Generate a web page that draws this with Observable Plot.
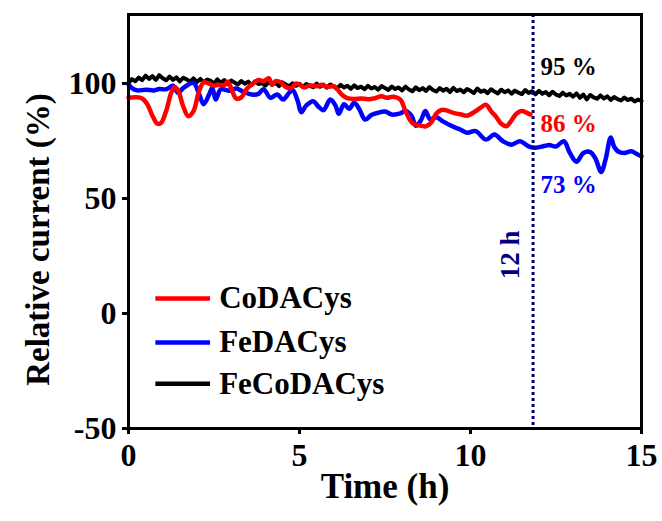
<!DOCTYPE html>
<html>
<head>
<meta charset="utf-8">
<script src="https://cdn.jsdelivr.net/npm/d3@7"></script>
<script src="https://cdn.jsdelivr.net/npm/@observablehq/plot@0.6"></script>
<style>
  html, body { margin: 0; padding: 0; background: #fff; }
  #chart { width: 662px; height: 521px; }
</style>
</head>
<body>
<div id="chart"></div>
<script>
// ---------- data ----------
const seriesNames = ["CoDACys", "FeDACys", "FeCoDACys"];
const seriesColors = ["#ff0000", "#0000ff", "#000000"];

// CoDACys (red)
const coTime = [0,0.2,0.4,0.55,0.7,0.85,0.95,1.1,1.25,1.35,1.45,1.6,1.75,1.9,2.05,2.2,2.35,2.5,2.65,2.8,2.9,3.0,3.15,3.3,3.45,3.6,3.8,3.95,4.1,4.2,4.3,4.45,4.6,4.75,4.9,5.0,5.15,5.3,5.5,5.65,5.8,6.0,6.1,6.25,6.4,6.6,6.8,7.0,7.2,7.4,7.55,7.75,7.95,8.1,8.3,8.5,8.7,8.85,9.0,9.15,9.3,9.5,9.7,9.9,10.1,10.3,10.45,10.6,10.75,10.9,11.05,11.2,11.35,11.5,11.65,11.75];
const coValue = [93.8,94.0,93.5,91,86,82.5,82.8,88,96,98.5,97,90,85.8,88,96,100.5,100,99,99.5,99.3,100.8,98,93.5,94,97.5,99.5,101.5,101,102.3,99.5,101,100.5,98.5,98,100,99.5,98.3,99.2,98.8,99.5,98.5,98.8,97.5,95,93.6,93.3,93.5,93.2,93.6,94.5,93.8,94.2,93.0,88,82.8,81.8,81.4,83,87,88.5,88.3,87.2,86.6,86,87.5,89.5,90.8,88,85.5,82.5,81.4,84,87,88,87.2,86.5];

// FeDACys (blue)
const feTime = [0,0.1,0.25,0.5,0.75,0.9,1.1,1.3,1.45,1.6,1.9,2.05,2.2,2.35,2.45,2.55,2.7,2.95,3.15,3.35,3.6,3.8,3.95,4.15,4.35,4.52,4.7,4.8,4.95,5.05,5.2,5.4,5.55,5.7,5.9,6.05,6.15,6.3,6.45,6.6,6.75,6.92,7.1,7.3,7.5,7.7,7.95,8.1,8.28,8.4,8.55,8.68,8.82,9.0,9.2,9.45,9.7,9.9,10.15,10.45,10.7,10.95,11.2,11.45,11.7,11.9,12.15,12.3,12.5,12.73,12.9,13.1,13.3,13.5,13.65,13.82,13.95,14.1,14.2,14.33,14.5,14.7,14.85,15.0];
const feValue = [99.6,98,97,97.3,97,97.6,97.5,99,96,98,100.3,96,91,95,98,93,97.5,96.8,97.8,96.5,95.2,95.5,97.5,93.8,95.2,93,96,97.2,92.3,87.5,90.5,92.3,90,88.4,93,90.5,86.8,91,89,91.6,88.8,84.3,86.3,87.3,87.8,86.5,87,88,85.8,81.6,84,88,84.5,85.3,83.5,81.5,80,78.6,79.3,75.6,77.8,74.9,73.4,74.9,72.7,72.1,72.8,73.3,72.6,74.9,70,66,69.8,70.2,67.5,61.5,67,76.5,72.5,70.3,69.8,70.5,69.5,68.3];

// FeCoDACys (black), read every 0.1 h from 0 to 15 h
const fecoStep = 0.1;
const fecoValue = [
  100.2,101.9,101.0,102.6,101.5,103.4,102.0,103.2,101.6,103.6,
  102.3,101.4,103.0,101.6,102.7,100.9,102.5,101.8,100.8,102.2,
  100.7,102.0,100.5,101.7,101.2,100.0,101.8,100.3,101.5,99.7,
  101.3,100.4,99.6,101.1,99.9,100.8,99.3,100.9,99.8,100.2,
  99.1,100.7,99.4,100.3,98.9,100.5,99.6,98.8,100.1,99.0,
  99.9,98.5,99.8,99.0,98.4,100.0,98.6,99.5,98.2,99.6,
  98.8,97.9,99.4,98.3,99.0,97.7,99.2,98.0,98.6,97.5,
  99.0,97.8,98.5,97.3,98.9,98.0,97.2,98.7,97.6,98.3,
  97.0,98.6,97.4,96.6,98.3,97.1,98.0,96.8,98.4,97.2,
  96.5,98.0,96.9,97.7,96.3,98.1,96.7,97.4,96.2,97.6,
  96.8,95.9,97.8,96.4,97.0,95.8,97.5,96.5,95.7,97.3,
  96.2,97.0,95.6,96.9,96.0,95.4,97.1,95.9,96.6,95.3,
  96.8,95.5,96.3,94.9,96.4,95.2,94.6,96.0,94.8,95.5,
  94.3,95.7,93.8,95.2,93.1,95.0,94.0,93.4,94.8,93.5,
  94.4,92.9,94.1,93.2,92.6,93.9,92.8,93.4,92.2,93.0,
  92.4
];

const xTicks = [0, 5, 10, 15];
const yTicks = [-50, 0, 50, 100];
const markerTime = 11.83;        // "12 h" dotted line
const retentionLabels = ["95 %", "86 %", "73 %"];
const retentionColors = ["#000000", "#ff0000", "#0000ff"];
const markerLabel = "12 h";
const xTitle = "Time (h)";
const yTitle = "Relative current (%)";

// ---------- tables ----------
const coData = coTime.map((t, i) => ({t, v: coValue[i]}));
const feData = feTime.map((t, i) => ({t, v: feValue[i]}));
const fecoData = fecoValue.map((v, i) => ({t: +(i * fecoStep).toFixed(2), v}));

// layout constants for annotations (not data)
const legendX0 = 0.8, legendX1 = 2.4, legendTextX = 2.65;
const legendY = [6.5, -12.6, -30.5];
const legendRows = seriesNames.map((name, i) => ({name, color: seriesColors[i], y: legendY[i]}));
const retentionY = [107, 82.5, 56];
const retentionRows = retentionLabels.map((s, i) => ({s, color: retentionColors[i], y: retentionY[i]}));

const font = "'Liberation Serif', 'Times New Roman', serif";

const chart = Plot.plot({
  width: 662,
  height: 521,
  marginLeft: 128,
  marginRight: 21,
  marginTop: 14,
  marginBottom: 93,
  style: {fontFamily: font, fontWeight: "bold", background: "#fff", color: "#000"},
  x: {domain: [0, 15]},
  y: {domain: [-50, 130]},
  marks: [
    Plot.axisX({ticks: xTicks, tickSize: 6, tickPadding: 9, fontSize: 32, strokeWidth: 3, label: null, tickFormat: d => String(d)}),
    Plot.axisY({ticks: yTicks, tickSize: 6, tickPadding: 6, fontSize: 32, strokeWidth: 3, label: null, tickFormat: d => String(d)}),
    Plot.line(fecoData, {x: "t", y: "v", stroke: seriesColors[2], strokeWidth: 4, curve: "linear"}),
    Plot.line(feData, {x: "t", y: "v", stroke: seriesColors[1], strokeWidth: 4.5, curve: "catmull-rom"}),
    Plot.line(coData, {x: "t", y: "v", stroke: seriesColors[0], strokeWidth: 4.5, curve: "catmull-rom"}),
    Plot.ruleX([markerTime], {stroke: "#000080", strokeWidth: 3, strokeDasharray: "3,3"}),
    Plot.text(retentionRows, {x: () => 12.05, y: "y", text: "s", fill: "color", fontSize: 25, textAnchor: "start"}),
    Plot.text([markerLabel], {x: () => 11.17, y: () => 25.5, rotate: -90, fill: "#000080", fontSize: 27}),
    Plot.ruleY(legendRows, {x1: () => legendX0, x2: () => legendX1, y: "y", stroke: "color", strokeWidth: 4.5}),
    Plot.text(legendRows, {x: () => legendTextX, y: "y", text: "name", textAnchor: "start", fontSize: 31}),
    Plot.text([yTitle], {frameAnchor: "left", textAnchor: "middle", rotate: -90, dx: -90, dy: 18, fontSize: 33}),
    Plot.text([xTitle], {frameAnchor: "bottom", dy: 69, fontSize: 35}),
    Plot.frame({stroke: "#000", strokeWidth: 3})
  ]
});
document.getElementById("chart").appendChild(chart);
</script>
</body>
</html>
